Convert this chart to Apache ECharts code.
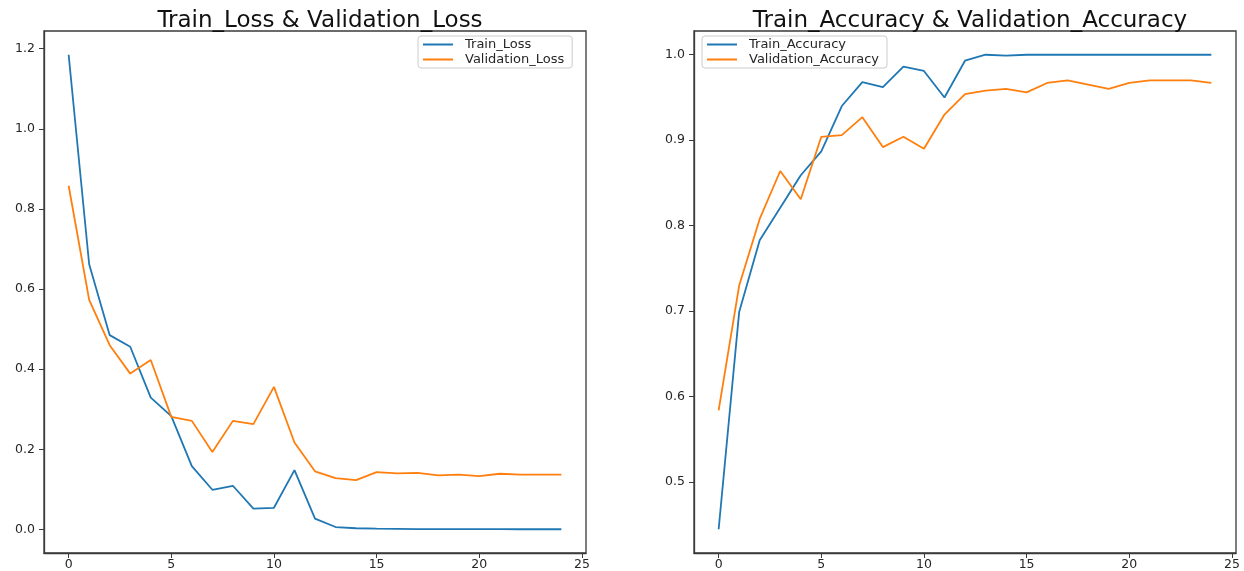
<!DOCTYPE html>
<html>
<head>
<meta charset="utf-8">
<script src="https://cdn.jsdelivr.net/npm/echarts@6/dist/echarts.min.js"></script>
<style>
html,body{margin:0;padding:0;background:#fff;}
#chart{width:1244px;height:571px;}
</style>
</head>
<body>
<div id="chart"></div>
<script>
// ---- data ----
const epochs = [0,1,2,3,4,5,6,7,8,9,10,11,12,13,14,15,16,17,18,19,20,21,22,23,24];
const trainLoss = [1.185,0.662,0.485,0.456,0.329,0.283,0.158,0.099,0.109,0.052,0.054,0.148,0.027,0.006,0.003,0.002,0.0015,0.001,0.001,0.0008,0.0007,0.0006,0.0005,0.0005,0.0004];
const valLoss = [0.858,0.573,0.460,0.389,0.423,0.281,0.271,0.193,0.271,0.263,0.356,0.217,0.145,0.128,0.123,0.143,0.140,0.141,0.135,0.137,0.133,0.139,0.137,0.137,0.137];
const trainAcc = [0.445,0.699,0.783,0.821,0.859,0.887,0.940,0.968,0.962,0.986,0.981,0.950,0.993,1.000,0.999,1.000,1.000,1.000,1.000,1.000,1.000,1.000,1.000,1.000,1.000];
const valAcc = [0.584,0.730,0.808,0.864,0.831,0.904,0.906,0.927,0.892,0.904,0.890,0.930,0.954,0.958,0.960,0.956,0.967,0.970,0.965,0.960,0.967,0.970,0.970,0.970,0.967];
const epochTicks = [0,5,10,15,20,25];
const lossTicks = [0.0,0.2,0.4,0.6,0.8,1.0,1.2];
const accTicks = [0.5,0.6,0.7,0.8,0.9,1.0];
const titles = ['Train_Loss & Validation_Loss','Train_Accuracy & Validation_Accuracy'];

// matplotlib-like 5% margins computed from the data
function padExtent(arrs){
  let mn = Infinity, mx = -Infinity;
  arrs.forEach(a => a.forEach(v => { mn = Math.min(mn, v); mx = Math.max(mx, v); }));
  const p = (mx - mn) * 0.05;
  return [mn - p, mx + p];
}
const xExt = padExtent([epochs]);
const lossExt = padExtent([trainLoss, valLoss]);
const accExt = padExtent([trainAcc, valAcc]);

const pair = (ys) => ys.map((v, i) => [epochs[i], v]);

const frame = '#3a3a3a';
const txt = '#262626';
const font = 'DejaVu Sans';

function xAxis(gi){
  return {
    type:'value', gridIndex: gi, min: xExt[0], max: xExt[1],
    splitLine:{show:false},
    axisLine:{show:true, onZero:false, lineStyle:{color:frame, width:1.3}},
    axisTick:{show:true, customValues: epochTicks, length:5, lineStyle:{color:frame, width:1}},
    axisLabel:{customValues: epochTicks, margin:5, color:txt, fontSize:12.5, fontFamily:font,
               formatter: v => String(Math.round(v))}
  };
}
function yAxis(gi, ext, ticks){
  return {
    type:'value', gridIndex: gi, min: ext[0], max: ext[1], scale:true,
    splitLine:{show:false},
    axisLine:{show:true, onZero:false, lineStyle:{color:frame, width:1.3}},
    axisTick:{show:true, customValues: ticks, length:5, lineStyle:{color:frame, width:1}},
    axisLabel:{customValues: ticks, margin:9, color:txt, fontSize:12.5, fontFamily:font,
               formatter: v => Number(v).toFixed(1)}
  };
}
function legend(names, left){
  return {
    data: names, left: left, top: 36, orient:'vertical', selectedMode:false,
    icon:'rect', itemWidth:30, itemHeight:2, itemGap:2,
    padding:[2,8,2,5], borderColor:'#cccccc', borderWidth:1, borderRadius:3,
    backgroundColor:'rgba(255,255,255,0.8)',
    textStyle:{fontSize:13, fontFamily:font, color:txt, lineHeight:12, padding:[0,0,0,7]}
  };
}
function line(name, data, color, xi){
  return {
    name, type:'line', xAxisIndex:xi, yAxisIndex:xi, data: pair(data),
    showSymbol:false, symbol:'none', color: color,
    lineStyle:{color: color, width:1.8}, emphasis:{disabled:true}
  };
}

const chart = echarts.init(document.getElementById('chart'), null, {renderer:'canvas'});
chart.setOption({
  animation:false,
  backgroundColor:'#ffffff',
  title:[
    {text: titles[0], left: 315, top: 5, textAlign:'center',
     textStyle:{fontSize:23, fontWeight:'normal', fontFamily:font, color:'#111'}},
    {text: titles[1], left: 965, top: 5, textAlign:'center',
     textStyle:{fontSize:23, fontWeight:'normal', fontFamily:font, color:'#111'}}
  ],
  grid:[
    {left:44, top:31, right:658, bottom:18, show:true, borderColor:frame, borderWidth:1.3, backgroundColor:'#fff'},
    {left:694, top:31, right:8, bottom:18, show:true, borderColor:frame, borderWidth:1.3, backgroundColor:'#fff'}
  ],
  xAxis:[xAxis(0), xAxis(1)],
  yAxis:[yAxis(0, lossExt, lossTicks), yAxis(1, accExt, accTicks)],
  legend:[legend(['Train_Loss','Validation_Loss'], 418), legend(['Train_Accuracy','Validation_Accuracy'], 702)],
  series:[
    line('Train_Loss', trainLoss, '#1f77b4', 0),
    line('Validation_Loss', valLoss, '#ff7f0e', 0),
    line('Train_Accuracy', trainAcc, '#1f77b4', 1),
    line('Validation_Accuracy', valAcc, '#ff7f0e', 1)
  ]
});
</script>
</body>
</html>
